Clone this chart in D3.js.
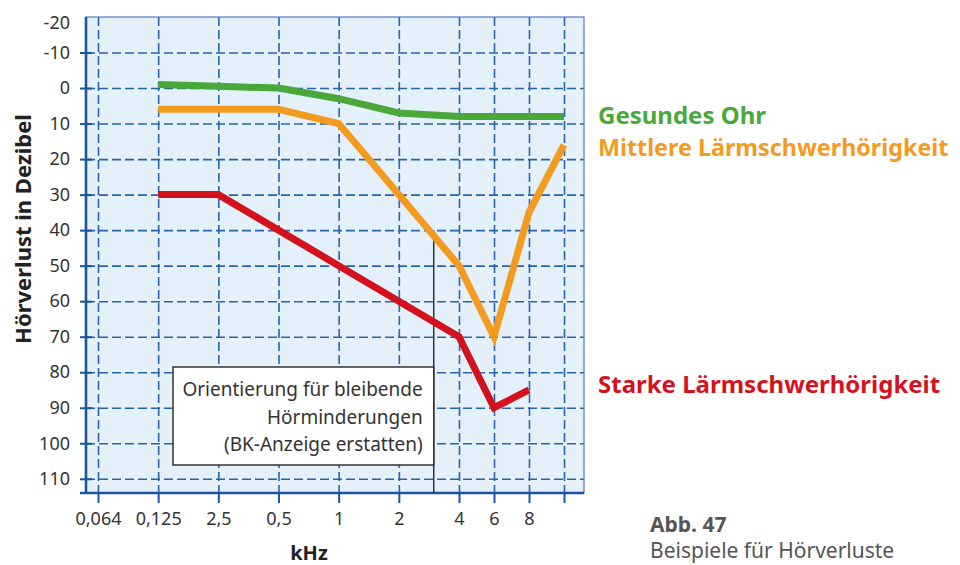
<!DOCTYPE html>
<html>
<head>
<meta charset="utf-8">
<script src="https://cdn.jsdelivr.net/npm/d3@7"></script>
<style>
  body { margin: 0; background: #fff; }
  text { font-family: "Noto Sans", "Open Sans", sans-serif; }
</style>
</head>
<body>
<div id="chart"></div>
<script>
// categories on the frequency axis (kHz), last one has no label
var freqLabels = ["0,064", "0,125", "2,5", "0,5", "1", "2", "4", "6", "8", ""];
var dbTicks = [-20, -10, 0, 10, 20, 30, 40, 50, 60, 70, 80, 90, 100, 110];

// series: index into freqLabels + dB value
var gesundIdx = [1, 2, 3, 4, 5, 6, 7, 8, 9];
var gesundDb  = [-1, -0.5, 0, 3, 7, 8, 8, 8, 8];
var mittelIdx = [1, 2, 3, 4, 5, 6, 7, 8, 9];
var mittelDb  = [6, 6, 6, 10, 30, 50, 70, 35, 16];
var starkIdx  = [1, 2, 3, 4, 5, 6, 7, 8];
var starkDb   = [30, 30, 40, 50, 60, 70, 90, 85];

var legendNames = ["Gesundes Ohr", "Mittlere Lärmschwerhörigkeit", "Starke Lärmschwerhörigkeit"];
var boxLines = ["Orientierung für bleibende", "Hörminderungen", "(BK-Anzeige erstatten)"];
var markerPos = 5.58;   // ~3 kHz
var markerDb = 40;

var W = 960, H = 565;
var plot = {left: 86, right: 584, top: 17, bottom: 493};
var gridColor = "#2b62aa", axisColor = "#1b559f";
var colGreen = "#4aa83b", colOrange = "#f39b1f", colRed = "#d4121d";

var svg = d3.select("#chart").append("svg")
    .attr("width", W).attr("height", H);

// x is a point-like scale with narrower spacing above 4 kHz
var x = d3.scaleLinear().domain([0, 6, 9]).range([98, 459, 564]);
var y = d3.scaleLinear().domain([-20, 114]).range([plot.top, plot.bottom]);

svg.append("rect")
    .attr("x", plot.left).attr("y", plot.top)
    .attr("width", plot.right - plot.left).attr("height", plot.bottom - plot.top)
    .attr("fill", "#e4f1fb");

// horizontal grid
var hGrid = svg.append("g")
    .attr("transform", "translate(" + plot.left + ",0)")
    .call(d3.axisRight(y).tickValues(dbTicks.filter(d => d > -20))
        .tickSize(plot.right - plot.left).tickFormat(""));
hGrid.select(".domain").remove();
hGrid.selectAll("line").attr("stroke", gridColor).attr("stroke-width", 1.6)
    .attr("stroke-dasharray", "9,4");

// vertical grid
var vGrid = svg.append("g")
    .attr("transform", "translate(0," + plot.top + ")")
    .call(d3.axisBottom(x).tickValues(d3.range(freqLabels.length))
        .tickSize(plot.bottom - plot.top).tickFormat(""));
vGrid.select(".domain").remove();
vGrid.selectAll("line").attr("stroke", gridColor).attr("stroke-width", 1.6)
    .attr("stroke-dasharray", "9,4");

// thin top/right frame
svg.append("rect")
    .attr("x", plot.left).attr("y", plot.top)
    .attr("width", plot.right - plot.left).attr("height", plot.bottom - plot.top)
    .attr("fill", "none").attr("stroke", "#4d7fc0").attr("stroke-width", 1.2);

// y axis
var yAxis = svg.append("g")
    .attr("transform", "translate(" + plot.left + ",0)")
    .call(d3.axisLeft(y).tickValues(dbTicks).tickSize(6).tickPadding(10)
        .tickFormat(d => String(d)));
yAxis.select(".domain").remove();
yAxis.selectAll("line").attr("stroke", axisColor).attr("stroke-width", 2)
    .attr("x2", -6).attr("x1", 6);
yAxis.selectAll("text").attr("font-size", 18).attr("fill", "#333")
    .attr("font-family", "Noto Sans");
yAxis.selectAll(".tick").filter(d => d == -20).select("text").attr("dy", "0.65em");
yAxis.selectAll(".tick").filter(d => d == -20).select("line").remove();

// x axis
var xAxis = svg.append("g")
    .attr("transform", "translate(0," + plot.bottom + ")")
    .call(d3.axisBottom(x).tickValues(d3.range(freqLabels.length))
        .tickFormat(i => freqLabels[i]).tickSize(10).tickPadding(9));
xAxis.select(".domain").remove();
xAxis.selectAll("line").attr("stroke", axisColor).attr("stroke-width", 2);
xAxis.selectAll("text").attr("font-size", 18).attr("fill", "#333")
    .attr("font-family", "Noto Sans");

// thick left and bottom axis lines
svg.append("line")
    .attr("x1", plot.left).attr("x2", plot.left)
    .attr("y1", plot.top).attr("y2", plot.bottom + 1)
    .attr("stroke", axisColor).attr("stroke-width", 2.6);
svg.append("line")
    .attr("x1", plot.left - 6).attr("x2", plot.right)
    .attr("y1", plot.bottom).attr("y2", plot.bottom)
    .attr("stroke", axisColor).attr("stroke-width", 2.6);

// marker line at ~3 kHz
svg.append("line")
    .attr("x1", x(markerPos)).attr("x2", x(markerPos))
    .attr("y1", y(markerDb)).attr("y2", plot.bottom)
    .attr("stroke", "#333").attr("stroke-width", 1.5);

// annotation box
var box = svg.append("g");
box.append("rect")
    .attr("x", 173).attr("y", 367)
    .attr("width", x(markerPos) - 173).attr("height", 98)
    .attr("fill", "#fff").attr("stroke", "#333").attr("stroke-width", 1.5);
box.selectAll("text").data(boxLines).enter().append("text")
    .attr("x", x(markerPos) - 11)
    .attr("y", (d, i) => 396 + i * 27.5)
    .attr("text-anchor", "end")
    .attr("font-size", 19).attr("fill", "#333")
    .text(d => d);

// series
var line = d3.line().x(d => x(d[0])).y(d => y(d[1]));
var series = [
    {idx: gesundIdx, db: gesundDb, color: colGreen},
    {idx: mittelIdx, db: mittelDb, color: colOrange},
    {idx: starkIdx, db: starkDb, color: colRed}
];
series.forEach(function(s) {
    svg.append("path")
        .datum(d3.zip(s.idx, s.db))
        .attr("d", line)
        .attr("fill", "none")
        .attr("stroke", s.color)
        .attr("stroke-width", 7)
        .attr("stroke-linejoin", "miter");
});

// legend labels
var legendY = [124, 156, 393];
var legendCol = [colGreen, colOrange, colRed];
var legendSize = [24, 23.3, 24];
svg.selectAll(".legend").data(legendNames).enter().append("text")
    .attr("class", "legend")
    .attr("x", 598)
    .attr("y", (d, i) => legendY[i])
    .attr("font-size", (d, i) => legendSize[i]).attr("font-weight", "bold")
    .attr("fill", (d, i) => legendCol[i])
    .text(d => d);

// axis titles
svg.append("text")
    .attr("transform", "translate(31,229) rotate(-90)")
    .attr("text-anchor", "middle")
    .attr("font-size", 22).attr("font-weight", "bold").attr("fill", "#222")
    .text("Hörverlust in Dezibel");
svg.append("text")
    .attr("x", 309).attr("y", 560)
    .attr("text-anchor", "middle")
    .attr("font-size", 20).attr("font-weight", "bold").attr("fill", "#222")
    .text("kHz");

// caption
svg.append("text")
    .attr("x", 650).attr("y", 532)
    .attr("font-size", 21).attr("font-weight", "bold").attr("fill", "#555")
    .text("Abb. 47");
svg.append("text")
    .attr("x", 650).attr("y", 558)
    .attr("font-size", 21).attr("fill", "#555")
    .text("Beispiele für Hörverluste");
</script>
</body>
</html>
